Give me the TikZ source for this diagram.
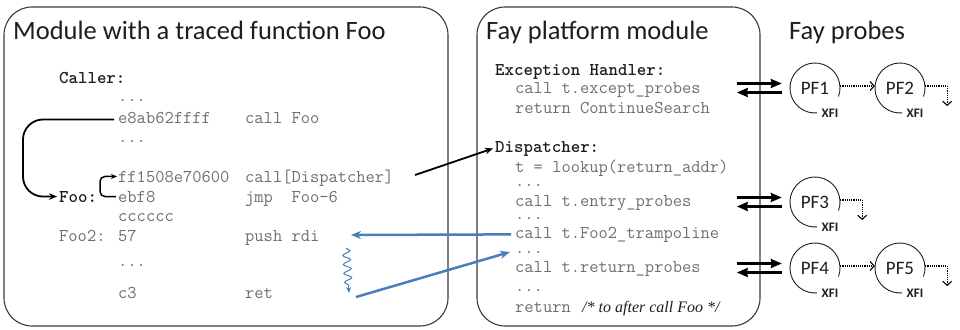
\documentclass[tikz,border=0pt]{standalone}
\usepackage{fontspec}
\setmainfont{Carlito}
\newfontfamily\commentfont{Liberation Serif}
\usetikzlibrary{arrows.meta,decorations.pathmorphing}
\definecolor{codegray}{HTML}{6E6E6E}
\definecolor{ink}{HTML}{1E1E1E}
\definecolor{linkblue}{HTML}{4A7EBB}
\definecolor{framegray}{HTML}{3A3A3A}

\begin{document}
\begin{tikzpicture}[x=1pt,y=-1pt,
  panel/.style={draw=framegray, line width=1.1pt, rounded corners=28pt},
  heading/.style={font=\fontsize{26.5}{26.5}\selectfont, text=ink, inner sep=0pt, anchor=base west},
  codetxt/.style={font=\ttfamily\fontsize{18}{18}\selectfont, text=codegray, inner sep=0pt, anchor=base west},
  codelbl/.style={codetxt, text=ink, font=\ttfamily\bfseries\fontsize{18}{18}\selectfont},
  probe/.style={circle, minimum size=50pt, inner sep=0pt, font=\fontsize{19}{19}\selectfont, text=ink},
  ring/.style={draw=ink, line width=0.9pt},
  xfi/.style={font=\bfseries\fontsize{13}{13}\selectfont, text=ink, inner sep=0pt},
  blk/.style={draw=black, line width=1.8pt, -{Stealth[length=8pt,width=6.5pt]}},
  xchg/.style={draw=black, line width=2.4pt, -{Stealth[length=11pt,width=9pt,inset=1pt]}},
  blu/.style={draw=linkblue, line width=2.5pt, -{Stealth[length=10pt,width=8pt]}},
  wig/.style={draw=linkblue, line width=1pt, -{Stealth[length=6pt,width=5pt]},
    decorate, decoration={snake, amplitude=3.8pt, segment length=9pt, post length=5pt}},
  hop/.style={draw=black, line width=1.1pt, dash pattern=on 1.2pt off 1pt,
    -{Straight Barb[length=4pt,width=9pt]}}
]
\useasboundingbox (0,0) rectangle (960,329);

% the two module panels
\draw[panel] (4,7) rectangle (448,326);
\draw[panel] (477,7) rectangle (760,326);

% headings
\node[heading] (t1) at (13,40) {Module with a traced function Foo};
\node[heading] (t2) at (486,40) {Fay platform module};
\node[heading] (t3) at (789,40) {Fay probes};

% traced module listing
\node[codelbl] (caller) at (59,83) {Caller:};
\node[codetxt] (d1) at (118,101) {...};
\node[codetxt] (e8ab) at (118,123) {e8ab62ffff};
\node[codetxt] (callfoo) at (245,123) {call Foo};
\node[codetxt] (d2) at (118,142) {...};
\node[codetxt] (ff15) at (118,182) {ff1508e70600};
\node[codetxt] (calldisp) at (245,182) {call[Dispatcher]};
\node[codelbl] (foo) at (59,202) {Foo:};
\node[codetxt] (ebf8) at (118,202) {ebf8};
\node[codetxt] (jmp) at (245,202) {jmp\ \ Foo-6};
\node[codetxt] (cc) at (118,221) {cccccc};
\node[codetxt] (foo2) at (59,241) {Foo2:};
\node[codetxt] (b57) at (118,241) {57};
\node[codetxt] (push) at (245,241) {push rdi};
\node[codetxt] (d3) at (118,266) {...};
\node[codetxt] (c3) at (118,298) {c3};
\node[codetxt] (ret) at (245,298) {ret};

% platform module listing
\node[codelbl] (exc) at (495,75) {Exception Handler:};
\node[codetxt] (cexc) at (515,93) {call t.except\_probes};
\node[codetxt] (rcs) at (515,113) {return ContinueSearch};
\node[codelbl] (disp) at (495,152) {Dispatcher:};
\node[codetxt] (lookup) at (515,172) {t = lookup(return\_addr)};
\node[codetxt] (m1) at (515,186) {...};
\node[codetxt] (centry) at (515,206) {call t.entry\_probes};
\node[codetxt] (m2) at (515,219) {...};
\node[codetxt] (ctramp) at (515,238) {call t.Foo2\_trampoline};
\node[codetxt] (m3) at (515,253) {...};
\node[codetxt] (cret) at (515,272) {call t.return\_probes};
\node[codetxt] (m4) at (515,291) {...};
\node[codetxt] (retn) at (515,312) {return};
\node[codetxt, font=\commentfont\itshape\fontsize{16}{16}\selectfont, text=ink] (cmt) at (582,312) {/* to after call Foo */};

% probe functions
\node[probe] (pf1) at (815,88) {PF1};
\node[probe] (pf2) at (900,88) {PF2};
\node[probe] (pf3) at (815,202) {PF3};
\node[probe] (pf4) at (815,268) {PF4};
\node[probe] (pf5) at (900,268) {PF5};
\foreach \p in {pf1,pf2,pf3,pf4,pf5} {
  \draw[ring] ([shift={(-20:25pt)}]\p.center) arc[start angle=-20, end angle=265, radius=25pt] -- ++(4,0);
  \node[xfi] (xfi-\p) at ([xshift=15pt,yshift=-25pt]\p.center) {XFI};
}

% call/return exchange with the probes
\foreach \p in {pf1,pf3,pf4} {
  \draw[xchg] ([xshift=-53pt,yshift=4.5pt]\p.west) -- ([xshift=-8pt,yshift=4.5pt]\p.west);
  \draw[xchg] ([xshift=-8pt,yshift=-4.5pt]\p.west) -- ([xshift=-53pt,yshift=-4.5pt]\p.west);
}

% chaining between probes
\draw[hop] ([yshift=2pt]pf1.east) -- ([yshift=2pt]pf2.west);
\draw[hop] ([yshift=2pt]pf4.east) -- ([yshift=2pt]pf5.west);
\foreach \p in {pf2,pf3,pf5}
  \draw[hop] ([yshift=2pt]\p.east) -- ++(22,0) -- ++(0,20);

% control flow in the traced module
\coordinate (loopx) at (23,0);
\draw[blk, rounded corners=20pt] ([xshift=-4pt,yshift=-2pt]e8ab.west) -- ([yshift=-2pt]e8ab.west -| loopx) |- ([xshift=-2pt]foo.west);
\draw[blk, line width=1.5pt, -{Stealth[length=6pt,width=5pt]}, rounded corners=5pt]
  ([xshift=-2pt]ebf8.west) -- ++(-16,0) |- ([xshift=-1pt]ff15.west);
\coordinate (dispFrom) at (415,175);
\draw[blk] (dispFrom) -- ([xshift=-2pt]disp.west);

% trampoline into Foo2 and back
\coordinate (pushIn) at (351,235);
\draw[blu] ([xshift=-4pt]ctramp.west) -- (pushIn);
\coordinate (wigTop) at (346,248);
\coordinate (wigEnd) at (349,293);
\draw[wig] (wigTop) -- (wigEnd);
\coordinate (retOut) at (356,297);
\draw[blu] (retOut) -- ([xshift=-5pt]m3.west);
\end{tikzpicture}
\end{document}
